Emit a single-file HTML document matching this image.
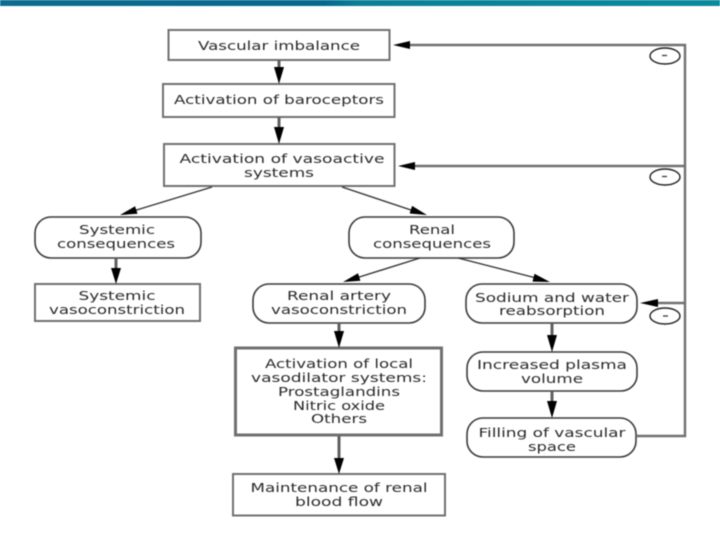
<!DOCTYPE html>
<html><head><meta charset="utf-8"><style>
html,body{margin:0;padding:0;background:#fff;width:720px;height:540px;overflow:hidden}
svg{display:block;filter:blur(.55px)}
text{font-family:"DejaVu Sans","Liberation Sans",sans-serif;font-size:12px;fill:#2a2a2a;text-anchor:middle}
.b{fill:#fff;stroke:#707070;stroke-width:2}
.t{fill:#fff;stroke:#707070;stroke-width:3}
.r{fill:#fff;stroke:#3a3a3a;stroke-width:1.6}
.l{fill:none;stroke:#707070;stroke-width:2.4}
.v{fill:none;stroke:#606060;stroke-width:3}
.d{fill:none;stroke:#333;stroke-width:1.4}
.a{fill:#000}
</style></head><body>
<svg width="720" height="540" viewBox="0 0 720 540" xmlns="http://www.w3.org/2000/svg">
<defs><linearGradient id="g" x1="0" x2="1" y1="0" y2="0"><stop offset="0" stop-color="#0d6d8f"/><stop offset=".45" stop-color="#07688f"/><stop offset=".5" stop-color="#0a8097"/><stop offset="1" stop-color="#0b8a9c"/></linearGradient></defs>
<rect x="0" y="0" width="720" height="6" fill="url(#g)"/>

<rect class="b" x="168.5" y="30" width="221" height="30"/>
<rect class="b" x="163" y="84" width="231.5" height="33"/>
<rect class="b" x="164" y="144" width="230.5" height="42"/>
<rect class="r" x="35" y="217" width="166" height="41" rx="16"/>
<rect class="r" x="349" y="217" width="165" height="41" rx="16"/>
<rect class="b" x="35" y="284" width="165" height="37"/>
<rect class="r" x="253" y="284" width="172" height="39" rx="16"/>
<rect class="r" x="466" y="284" width="171" height="39" rx="16"/>
<rect class="t" x="235.5" y="348" width="206" height="87"/>
<rect class="r" x="467" y="352" width="170" height="39" rx="16"/>
<rect class="r" x="467" y="418" width="169" height="39" rx="16"/>
<rect class="b" x="233" y="474" width="212" height="41.5"/>

<path class="v" d="M279 60V68M279 117V128M116 258V268M339 323V332M339 436V458M552 323V336M552 391V402"/>
<path class="d" d="M212 187L130 212M342 187L417 212M420 258L353 279M458 258L540 279"/>
<path class="l" d="M405 45H685V436H636M405 166H685M652 303H685"/>

<path class="a" d="M274 67H284L279 84ZM274 127H284L279 144ZM111 268H121L116 284ZM334 331H344L339 348ZM334 458H344L339 474ZM547 335H557L552 352ZM547 401H557L552 418Z"/>
<path class="a" d="M393 45L410 41V49ZM398 166L415 162V170ZM640 303L658 299V307Z"/>
<path class="a" d="M120 215L137.500 213.800L135.100 206.200ZM427 215L409.600 213.500L412.100 205.900ZM343 282L360.400 280.800L358 273.200ZM550 282L532.500 281.600L534.500 273.800Z"/>

<ellipse cx="665" cy="56" rx="15" ry="8" fill="#fff" stroke="#222" stroke-width="1.4"/>
<ellipse cx="665" cy="177" rx="15" ry="8" fill="#fff" stroke="#222" stroke-width="1.4"/>
<ellipse cx="665" cy="316" rx="15" ry="8" fill="#fff" stroke="#222" stroke-width="1.4"/>
<path d="M662 55.500h5M662 176.500h5M663 316h5" stroke="#333" stroke-width="1.3"/>

<text x="279" y="50" textLength="162" lengthAdjust="spacingAndGlyphs">Vascular imbalance</text>
<text x="279" y="104" textLength="210" lengthAdjust="spacingAndGlyphs">Activation of baroceptors</text>
<text x="282" y="163" textLength="205" lengthAdjust="spacingAndGlyphs">Activation of vasoactive</text>
<text x="279" y="177" textLength="70" lengthAdjust="spacingAndGlyphs">systems</text>
<text x="117" y="234" textLength="76" lengthAdjust="spacingAndGlyphs">Systemic</text>
<text x="116" y="248" textLength="118" lengthAdjust="spacingAndGlyphs">consequences</text>
<text x="432" y="234" textLength="46" lengthAdjust="spacingAndGlyphs">Renal</text>
<text x="432" y="248" textLength="118" lengthAdjust="spacingAndGlyphs">consequences</text>
<text x="117" y="300" textLength="77" lengthAdjust="spacingAndGlyphs">Systemic</text>
<text x="117" y="314" textLength="136" lengthAdjust="spacingAndGlyphs">vasoconstriction</text>
<text x="339" y="300" textLength="104" lengthAdjust="spacingAndGlyphs">Renal artery</text>
<text x="339" y="314" textLength="136" lengthAdjust="spacingAndGlyphs">vasoconstriction</text>
<text x="552" y="302" textLength="154" lengthAdjust="spacingAndGlyphs">Sodium and water</text>
<text x="552" y="315" textLength="106" lengthAdjust="spacingAndGlyphs">reabsorption</text>
<text x="339" y="368" textLength="148" lengthAdjust="spacingAndGlyphs">Activation of local</text>
<text x="339" y="382" textLength="176" lengthAdjust="spacingAndGlyphs">vasodilator systems:</text>
<text x="339" y="396" textLength="122" lengthAdjust="spacingAndGlyphs">Prostaglandins</text>
<text x="339" y="410" textLength="92" lengthAdjust="spacingAndGlyphs">Nitric oxide</text>
<text x="339" y="423" textLength="56" lengthAdjust="spacingAndGlyphs">Others</text>
<text x="552" y="369" textLength="150" lengthAdjust="spacingAndGlyphs">Increased plasma</text>
<text x="552" y="383" textLength="62" lengthAdjust="spacingAndGlyphs">volume</text>
<text x="552" y="437" textLength="147" lengthAdjust="spacingAndGlyphs">Filling of vascular</text>
<text x="552" y="451" textLength="48" lengthAdjust="spacingAndGlyphs">space</text>
<text x="339" y="492" textLength="177" lengthAdjust="spacingAndGlyphs">Maintenance of renal</text>
<text x="339" y="506" textLength="88" lengthAdjust="spacingAndGlyphs">blood flow</text>
</svg>
</body></html>
